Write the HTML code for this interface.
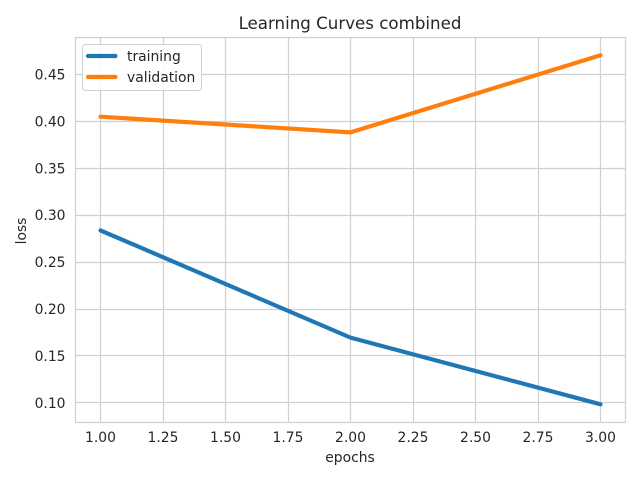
<!DOCTYPE html>
<html>
<head>
<meta charset="utf-8">
<style>
html,body{margin:0;padding:0;background:#fff;}
svg{display:block;font-family:"DejaVu Sans","Liberation Sans",sans-serif;}
text{fill:#262626;}
</style>
</head>
<body>
<svg id="chart" xmlns="http://www.w3.org/2000/svg" width="640" height="480" viewBox="0 0 640 480">
  <rect width="640" height="480" fill="#ffffff"/>
  <g id="grid"></g>
  <g id="series"></g>
  <rect x="75.5" y="37.5" width="550" height="385" fill="none" stroke="#d0d0d0" stroke-width="1.2"/>
  <g id="ticks"></g>
  <text x="350" y="29" font-size="16.67" text-anchor="middle">Learning Curves combined</text>
  <text x="350" y="462" font-size="13.89" text-anchor="middle">epochs</text>
  <text transform="translate(26,231) rotate(-90)" font-size="13.89" text-anchor="middle">loss</text>
  <g>
    <rect x="82.5" y="44.5" width="119" height="46" rx="3" ry="3" fill="#ffffff" fill-opacity="0.8" stroke="#d0d0d0" stroke-width="1"/>
    <line x1="88" y1="56" x2="115.5" y2="56" stroke="#1f77b4" stroke-width="4.17" stroke-linecap="round"/>
    <text x="127" y="61" font-size="13.89">training</text>
    <line x1="88" y1="77" x2="115.5" y2="77" stroke="#ff7f0e" stroke-width="4.17" stroke-linecap="round"/>
    <text x="127" y="82" font-size="13.89">validation</text>
  </g>
</svg>
<script>
const epochs = [1, 2, 3];
const trainingLoss = [0.2838, 0.1695, 0.0984];
const validationLoss = [0.405, 0.3883, 0.4705];
const xTicks = ["1.00", "1.25", "1.50", "1.75", "2.00", "2.25", "2.50", "2.75", "3.00"];
const yTicks = ["0.10", "0.15", "0.20", "0.25", "0.30", "0.35", "0.40", "0.45"];

const NS = 'http://www.w3.org/2000/svg';
const xScale = function (v) { return 100.5 + (v - 1) * 250; };
const yScale = function (v) { return 402.8 - (v - 0.10) * 938; };
const snap = function (p) { return Math.floor(p) + 0.5; };
const gridGroup = document.getElementById('grid');
const tickGroup = document.getElementById('ticks');
const seriesGroup = document.getElementById('series');

function makeLine(x1, y1, x2, y2) {
  const line = document.createElementNS(NS, 'line');
  line.setAttribute('x1', x1);
  line.setAttribute('y1', y1);
  line.setAttribute('x2', x2);
  line.setAttribute('y2', y2);
  line.setAttribute('stroke', '#d0d0d0');
  line.setAttribute('stroke-width', '1.2');
  return line;
}

function makeLabel(x, y, anchor, content) {
  const label = document.createElementNS(NS, 'text');
  label.setAttribute('x', x);
  label.setAttribute('y', y);
  label.setAttribute('font-size', '13.89');
  label.setAttribute('text-anchor', anchor);
  label.textContent = content;
  return label;
}

xTicks.forEach(function (t) {
  const x = xScale(parseFloat(t));
  const gridLine = makeLine(snap(x), 37.5, snap(x), 422.5);
  
  
  gridGroup.appendChild(gridLine);
  const label = makeLabel(x, 442, 'middle', t);
  
  
  tickGroup.appendChild(label);
});

yTicks.forEach(function (t) {
  const y = yScale(parseFloat(t));
  const gridLine = makeLine(75.5, snap(y), 625.5, snap(y));
  
  
  gridGroup.appendChild(gridLine);
  const label = makeLabel(65.5, y + 5, 'end', t);
  
  
  tickGroup.appendChild(label);
});

function makeSeries(values, color) {
  const poly = document.createElementNS(NS, 'polyline');
  const pts = values.map(function (v, i) {
    return xScale(epochs[i]).toFixed(2) + ',' + yScale(v).toFixed(2);
  });
  poly.setAttribute('points', pts.join(' '));
  poly.setAttribute('fill', 'none');
  poly.setAttribute('stroke', color);
  poly.setAttribute('stroke-width', '4.17');
  poly.setAttribute('stroke-linecap', 'round');
  poly.setAttribute('stroke-linejoin', 'round');
  return poly;
}

const trainingLine = makeSeries(trainingLoss, '#1f77b4');


seriesGroup.appendChild(trainingLine);

const validationLine = makeSeries(validationLoss, '#ff7f0e');


seriesGroup.appendChild(validationLine);
</script>
</body>
</html>
